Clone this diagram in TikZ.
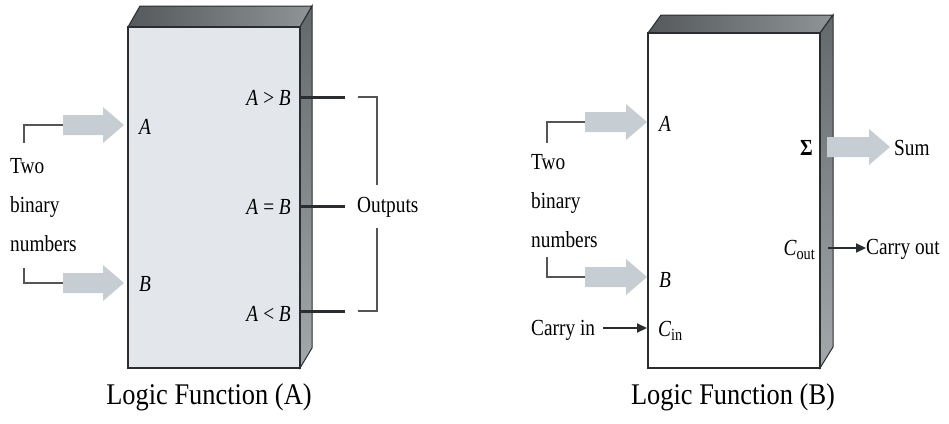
\documentclass[tikz,border=0pt]{standalone}
\usepackage{fontspec}
\setmainfont{Liberation Serif}
\newfontfamily\condfont[FakeStretch=0.84]{Liberation Serif}
\newfontfamily\titlefont[FakeStretch=0.88]{Liberation Serif}
\usetikzlibrary{arrows.meta,calc}

\definecolor{facegray}{HTML}{E3E7EB}
\definecolor{arrowfill}{HTML}{C6CED4}
\definecolor{edgedark}{HTML}{2A2D2F}
\definecolor{topdark}{HTML}{55595C}
\definecolor{toplight}{HTML}{8F9497}
\definecolor{sidedark}{HTML}{63686B}
\definecolor{sidelight}{HTML}{A3A8AB}
\definecolor{bracketgray}{HTML}{555555}

\tikzset{
  lbl/.style={font=\condfont\fontsize{23}{26}\selectfont, inner sep=0pt},
  pinlbl/.style={font=\condfont\itshape\fontsize{23}{26}\selectfont, inner sep=0pt},
  stack/.style={font=\condfont\fontsize{23}{39}\selectfont, inner sep=0pt, align=left},
  titlelbl/.style={font=\titlefont\fontsize{30}{34}\selectfont, inner sep=0pt},
  bracket/.style={draw=bracketgray, line width=1.2pt},
  stub/.style={draw=edgedark, line width=3pt},
  thinarrow/.style={draw=edgedark, line width=2pt, -{Triangle[length=10pt,width=9pt]}},
  topface/.style={left color=topdark, right color=toplight, draw=edgedark, line width=1pt},
  sideface/.style={top color=sidedark, bottom color=sidelight, draw=edgedark, line width=1pt},
}

% wide grey block arrow from coordinate #1 to tip coordinate #2
\newcommand\fatarrow[2]{%
  \fill[arrowfill] let \p1=(#1), \p2=(#2) in
    (\x1,\y1+10pt) -- (\x2-21pt,\y1+10pt) -- (\x2-21pt,\y1+18pt) -- (\x2,\y1)
    -- (\x2-21pt,\y1-18pt) -- (\x2-21pt,\y1-10pt) -- (\x1,\y1-10pt) -- cycle;}

\begin{document}
\begin{tikzpicture}[x=1pt,y=-1pt]
\useasboundingbox (0,0) rectangle (949,423);

% ---------------- comparator block ----------------
\path[topface] (128,27) -- (140,6) -- (312,6) -- (300,27) -- cycle;
\path[sideface] (300,27) -- (312,6) -- (312,348) -- (300,368) -- cycle;
\path[fill=facegray, draw=edgedark, line width=2pt] (128,27) rectangle (300,368);

\coordinate (aIn1) at (63,125);  \coordinate (aTip1) at (124,125);
\coordinate (aIn2) at (63,283);  \coordinate (aTip2) at (124,283);
\fatarrow{aIn1}{aTip1}
\fatarrow{aIn2}{aTip2}
\draw[bracket] (aIn1) -| (24,143);
\draw[bracket] (24,268) |- (aIn2);

\node[stack, anchor=west] (twoA) at (10,205) {Two\\binary\\numbers};

\node[pinlbl, anchor=west] (pa) at (139,127) {A};
\node[pinlbl, anchor=west] (pb) at (139,284) {B};
\node[pinlbl, anchor=east] (gt) at (291,98) {A\,>\,B};
\node[pinlbl, anchor=east] (eq) at (291,207) {A\,=\,B};
\node[pinlbl, anchor=east] (lt) at (291,314) {A\,<\,B};

\coordinate (oGt) at (345,97);
\coordinate (oEq) at (345,206);
\coordinate (oLt) at (345,311);
\draw[stub] (300,97) -- (oGt);
\draw[stub] (300,206) -- (oEq);
\draw[stub] (300,311) -- (oLt);

\node[lbl, anchor=west] (outs) at (357,207) {Outputs};
\draw[bracket] (358,97) -- (377,97) -- (377,185);
\draw[bracket] (377,228) -- (377,311) -- (358,311);

\node[titlelbl] (titleA) at (209,397) {Logic Function (A)};

% ---------------- adder block ----------------
\path[topface] (648,33) -- (661,15) -- (833,15) -- (820,33) -- cycle;
\path[sideface] (820,33) -- (833,15) -- (833,347) -- (820,368) -- cycle;
\path[fill=white, draw=edgedark, line width=1.4pt] (648,33) rectangle (820,368);

\coordinate (bIn1) at (585,122);  \coordinate (bTip1) at (647,122);
\coordinate (bIn2) at (585,277);  \coordinate (bTip2) at (647,277);
\fatarrow{bIn1}{bTip1}
\fatarrow{bIn2}{bTip2}
\draw[bracket] (bIn1) -| (547,143);
\draw[bracket] (547,257) |- (bIn2);

\node[stack, anchor=west] (twoB) at (531,201) {Two\\binary\\numbers};

\node[pinlbl, anchor=west] (qa) at (659,124) {A};
\node[pinlbl, anchor=west] (qb) at (659,280) {B};
\node[lbl, anchor=west] (cinlbl) at (531,330) {Carry in};
\node[pinlbl, anchor=west] (cin) at (658,331) {C\raisebox{-0.45ex}{\upshape\fontsize{17}{19}\selectfont in}};
\coordinate (cinStart) at (603,328);
\coordinate (cinEnd) at (647,328);
\draw[thinarrow] (cinStart) -- (cinEnd);

\node[font=\condfont\bfseries\fontsize{23}{26}\selectfont, inner sep=0pt, anchor=east] (sig) at (813,148) {Σ};
\coordinate (sIn) at (827,147); \coordinate (sTip) at (890,147);
\fatarrow{sIn}{sTip}
\node[lbl, anchor=west] (sum) at (894,148) {Sum};

\node[pinlbl, anchor=east] (cout) at (815,250) {C\raisebox{-0.45ex}{\upshape\fontsize{17}{19}\selectfont out}};
\node[lbl, anchor=west] (coutlbl) at (866,249) {Carry out};
\coordinate (coutStart) at (828,248);
\draw[thinarrow] (coutStart) -- (coutlbl.west |- coutStart);

\node[titlelbl] (titleB) at (733,397) {Logic Function (B)};
\end{tikzpicture}
\end{document}
